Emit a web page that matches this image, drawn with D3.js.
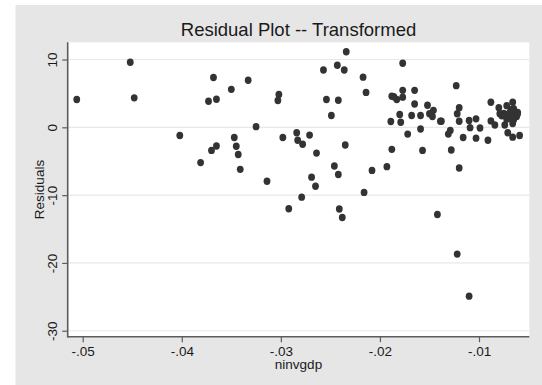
<!DOCTYPE html>
<html>
<head>
<meta charset="utf-8">
<script src="https://cdn.jsdelivr.net/npm/d3@7"></script>
<style>
	body { margin: 0; background: #ffffff; }
	svg text { font-family: "Liberation Sans", Arial, sans-serif; fill: #1a1a1a; }
</style>
</head>
<body>
<div id="chart"></div>
<script>

var ninvgdp = [
	-0.0506, -0.0452, -0.0448, -0.0402, -0.0381, -0.0373, -0.0368, -0.0365, -0.0370, -0.0365,
	-0.0350, -0.0347, -0.0345, -0.0343, -0.0341, -0.0333, -0.0325, -0.0314, -0.0302, -0.0303,
	-0.0298, -0.0292, -0.0284, -0.0283, -0.0278, -0.0279, -0.0271, -0.0264, -0.0269, -0.0265,
	-0.0257, -0.0254, -0.0249, -0.0243, -0.0242, -0.0236, -0.0234, -0.0235, -0.0246, -0.0242,
	-0.0241, -0.0238, -0.0217, -0.0214, -0.0216, -0.0208, -0.0193, -0.0189, -0.0188, -0.0188,
	-0.0186, -0.0183, -0.0180, -0.0179, -0.0177, -0.0177, -0.0177, -0.0172, -0.0168, -0.0165,
	-0.0165, -0.0159, -0.0159, -0.0157, -0.0152, -0.0150, -0.0147, -0.0146, -0.0142, -0.0139,
	-0.0131, -0.0129, -0.0128, -0.0123, -0.0122, -0.0120, -0.0120, -0.0122, -0.0120, -0.0116,
	-0.0110, -0.0109, -0.0110, -0.0103, -0.0103, -0.0099, -0.0091, -0.0088, -0.0088, -0.0084,
	-0.0080, -0.0079, -0.0077, -0.0074, -0.0072, -0.0071, -0.0070, -0.0068, -0.0066, -0.0066,
	-0.0066, -0.0064, -0.0062, -0.0061, -0.0069, -0.0059, -0.0065, -0.0075, -0.0072, -0.0065,
	-0.0061, -0.0138
]

var residuals = [
	4.1, 9.6, 4.35, -1.2, -5.2, 3.85, 7.35, 4.15, -3.4, -2.75,
	5.6, -1.5, -2.8, -4.0, -6.2, 6.95, 0.1, -7.95, 4.85, 3.95,
	-1.5, -12.0, -0.8, -1.9, -2.5, -10.3, -1.15, -3.8, -7.35, -8.7,
	8.45, 4.1, 1.75, 9.15, 4.0, 8.45, 11.15, -2.6, -5.7, -6.95,
	-12.05, -13.3, 7.4, 5.15, -9.6, -6.35, -5.8, 0.85, -3.25, 4.6,
	4.5, 4.1, 1.9, 0.75, 9.45, 5.45, 4.45, -1.0, 1.75, 5.45,
	3.45, -0.25, 1.75, -3.4, 3.25, 2.0, 1.6, 2.5, -12.85, 0.9,
	-1.0, -0.45, -3.35, 6.15, 2.0, 2.9, 0.9, -18.7, -6.0, -1.5,
	1.0, -0.05, -24.9, 1.25, -1.6, -0.1, -1.9, 3.7, 0.95, 0.35,
	2.9, 2.0, 1.7, 0.35, 3.2, -0.8, 2.0, 2.6, 3.7, 0.55,
	-1.45, 2.0, 1.6, 2.0, 1.3, -1.2, 2.75, 2.05, 1.2, 1.1,
	2.2, 0.9
]

var xTicks = [-0.05, -0.04, -0.03, -0.02, -0.01]
var xTickLabels = ["-.05", "-.04", "-.03", "-.02", "-.01"]
var yTicks = [10, 0, -10, -20, -30]
var yTickLabels = ["10", "0", "-10", "-20", "-30"]

var points = ninvgdp.map(function(d, i) { return {x: d, y: residuals[i]} })

var width = 542, height = 385
var margin = {top: 42.3, right: 12.7, bottom: 48.3, left: 67.7}
var plotW = width - margin.left - margin.right
var plotH = height - margin.top - margin.bottom

var svg = d3.select("#chart").append("svg")
	.attr("width", width)
	.attr("height", height)

// outer graph region
svg.append("rect")
	.attr("x", 15.5)
	.attr("y", 5)
	.attr("width", width - 15.5)
	.attr("height", height - 5)
	.attr("fill", "#e6e6e6")

var features = svg.append("g").attr("transform", "translate(" + margin.left + "," + margin.top + ")")

features.append("rect")
	.attr("width", plotW)
	.attr("height", plotH)
	.attr("fill", "#ffffff")

var x = d3.scaleLinear()
	.domain([-0.051514, -0.004924])
	.range([0, plotW])

var y = d3.scaleLinear()
	.domain([12.54, -30.88])
	.range([0, plotH])

// grid
features.selectAll(".grid")
	.data(yTicks)
	.enter().append("line")
	.attr("class", "grid")
	.attr("x1", 0)
	.attr("x2", plotW)
	.attr("y1", function(d) { return y(d) })
	.attr("y2", function(d) { return y(d) })
	.attr("stroke", "#e8e8e8")
	.attr("stroke-width", 1.2)

var xAxis = d3.axisBottom(x)
	.tickValues(xTicks)
	.tickSize(5.5)
	.tickPadding(4)
	.tickFormat(function(d, i) { return xTickLabels[i] })

var yAxis = d3.axisLeft(y)
	.tickValues(yTicks)
	.tickSize(5.5)
	.tickPadding(3)
	.tickFormat(function(d, i) { return yTickLabels[i] })

var gx = features.append("g")
	.attr("class", "x axis")
	.attr("transform", "translate(0," + plotH + ")")
	.call(xAxis)

var gy = features.append("g")
	.attr("class", "y axis")
	.call(yAxis)

svg.selectAll(".axis .domain").remove()

gx.append("line")
	.attr("x1", 0).attr("x2", plotW)
	.attr("stroke", "#5c5c5c")
	.attr("stroke-width", 1.6)

gy.append("line")
	.attr("y1", 0).attr("y2", plotH + 0.8)
	.attr("stroke", "#5c5c5c")
	.attr("stroke-width", 1.6)

svg.selectAll(".axis .tick line")
	.attr("stroke", "#5c5c5c")
	.attr("stroke-width", 1.2)

gx.selectAll("text")
	.attr("font-size", 13.5)
	.attr("fill", "#1a1a1a")

// y tick labels read bottom to top, as in Stata
gy.selectAll(".tick text")
	.attr("font-size", 13.5)
	.attr("fill", "#1a1a1a")
	.attr("text-anchor", "middle")
	.attr("x", 0)
	.attr("dy", 0)
	.attr("y", -10.7)
	.attr("transform", "rotate(-90)")

// points
features.selectAll(".dot")
	.data(points)
	.enter().append("ellipse")
	.attr("class", "dot")
	.attr("cx", function(d) { return x(d.x) })
	.attr("cy", function(d) { return y(d.y) })
	.attr("rx", 3.4)
	.attr("ry", 3.7)
	.attr("fill", "#333333")

// labels
svg.append("text")
	.attr("x", margin.left + plotW / 2)
	.attr("y", 36)
	.attr("text-anchor", "middle")
	.attr("font-size", 18.5)
	.attr("fill", "#333333")
	.text("Residual Plot -- Transformed")

svg.append("text")
	.attr("x", margin.left + plotW / 2)
	.attr("y", 369)
	.attr("text-anchor", "middle")
	.attr("font-size", 13.5)
	.text("ninvgdp")

svg.append("text")
	.attr("transform", "translate(44," + (margin.top + plotH / 2) + ") rotate(-90)")
	.attr("text-anchor", "middle")
	.attr("font-size", 13.5)
	.text("Residuals")

</script>
</body>
</html>
